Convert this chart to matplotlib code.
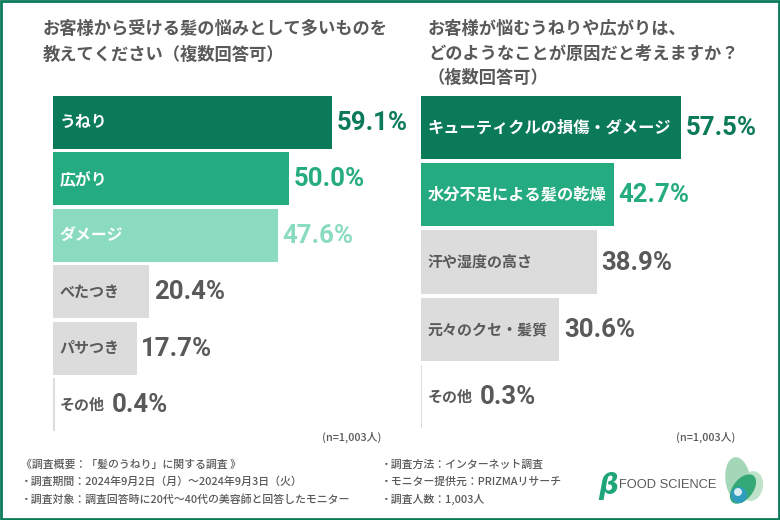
import matplotlib
matplotlib.use("Agg")
import matplotlib.pyplot as plt
from matplotlib.patches import Ellipse, Circle, Rectangle

plt.rcParams['font.family'] = ['Noto Sans CJK JP', 'DejaVu Sans']

DARK = '#0b7a58'
MID = '#25ab80'
LIGHT = '#8adbc0'
GRAY = '#dcdcdc'
TEXT = '#595959'

left_labels = ['うねり', '広がり', 'ダメージ', 'べたつき', 'パサつき', 'その他']
left_values = [59.1, 50.0, 47.6, 20.4, 17.7, 0.4]
left_colors = [DARK, MID, LIGHT, GRAY, GRAY, GRAY]

right_labels = ['キューティクルの損傷・ダメージ', '水分不足による髪の乾燥', '汗や湿度の高さ', '元々のクセ・髪質', 'その他']
right_values = [57.5, 42.7, 38.9, 30.6, 0.3]
right_colors = [DARK, MID, GRAY, GRAY, GRAY]

left_title = ['お客様から受ける髪の悩みとして多いものを', '教えてください（複数回答可）']
right_title = ['お客様が悩むうねりや広がりは、', 'どのようなことが原因だと考えますか？', '（複数回答可）']
footer_left = ['《調査概要：「髪のうねり」に関する調査 》',
               '・調査期間：2024年9月2日（月）～2024年9月3日（火）',
               '・調査対象：調査回答時に20代～40代の美容師と回答したモニター']
footer_right = ['・調査方法：インターネット調査', '・モニター提供元：PRIZMAリサーチ', '・調査人数：1,003人']
n_note = '(n=1,003人)'

W, H = 780, 520


def add_axes_px(fig, x0, y0, x1, y1):
    return fig.add_axes([x0 / W, 1 - y1 / H, (x1 - x0) / W, (y1 - y0) / H])


def draw_bars(ax, labels, values, colors, bar_h, px_per_pct, width_px, label_size):
    ypos = list(range(len(labels)))
    ax.barh(ypos, values, height=bar_h, color=colors, linewidth=0)
    ax.set_xlim(0, width_px / px_per_pct)
    ax.set_ylim(len(labels) - 0.5, -0.5)
    ax.axis('off')
    for y, lab, val, col in zip(ypos, labels, values, colors):
        txt_col = TEXT if col == GRAY else 'white'
        # the gray rows use a slightly smaller label
        size = 10.8 if col == GRAY else label_size
        ax.annotate(lab, (0, y), xytext=(4.8, 0), textcoords='offset points',
                    va='center', ha='left', fontsize=size, fontweight='bold', color=txt_col)
        # その他 is so short that its number sits after the label
        off = 41 if val < 1 else 3.4
        num_col = TEXT if col == GRAY else col
        ax.annotate(f'{val:.1f}%', (val, y), xytext=(off, -0.5), textcoords='offset points',
                    va='center', ha='left', fontsize=18.5, fontweight='bold',
                    color=num_col, family='Roboto')


def main():
    fig = plt.figure(figsize=(7.8, 5.2), dpi=100, facecolor='white')
    bg = fig.add_axes([0, 0, 1, 1])
    bg.set_xlim(0, W)
    bg.set_ylim(H, 0)
    bg.axis('off')
    bg.add_patch(Rectangle((1.3, 1.3), W - 2.6, H - 2.6, fill=False, edgecolor=DARK, linewidth=2))

    for i, line in enumerate(left_title):
        bg.text(43, 29 + i * 26, line, fontsize=12.45, fontweight='bold', color=TEXT, va='center')
    for i, line in enumerate(right_title):
        bg.text(428, 29 + i * 24.5, line, fontsize=12.4, fontweight='bold', color=TEXT, va='center')

    bg.text(322, 437, n_note, fontsize=7.8, fontweight='medium', color=TEXT, va='center')
    bg.text(676, 437, n_note, fontsize=7.8, fontweight='medium', color=TEXT, va='center')

    for i, line in enumerate(footer_left):
        bg.text(21, 465 + i * 17, line, fontsize=7.85, fontweight='medium', color=TEXT, va='center')
    for i, line in enumerate(footer_right):
        bg.text(381, 465 + i * 17, line, fontsize=7.85, fontweight='medium', color=TEXT, va='center')

    # logo
    bg.text(598, 486, 'β', fontsize=20, fontweight='bold', color='#1fa57a', style='italic',
            va='center', family='DejaVu Sans')
    bg.text(619, 485, 'FOOD SCIENCE', fontsize=9.3, color=TEXT, va='center', family='Liberation Sans')
    bg.add_patch(Ellipse((738, 480), 25, 46, angle=-8, color='#a3d7b8', linewidth=0))
    bg.add_patch(Ellipse((752, 486), 22, 30, angle=10, color='#bfe3ca', linewidth=0))
    bg.add_patch(Ellipse((743, 489), 20, 34, angle=38, color='#35a878', linewidth=0))
    bg.add_patch(Circle((739, 495), 8, color='#2f9cc0', linewidth=0))
    bg.add_patch(Circle((738, 492), 4, color='#d7eef2', linewidth=0))

    ax1 = add_axes_px(fig, 53, 94, 410, 433)
    draw_bars(ax1, left_labels, left_values, left_colors, 0.94, 4.72, 357, 11.4)
    ax2 = add_axes_px(fig, 421, 94, 775, 430)
    draw_bars(ax2, right_labels, right_values, right_colors, 0.94, 4.52, 354, 11.7)

    fig.savefig('out.png', dpi=100)


if __name__ == "__main__":
    main()
